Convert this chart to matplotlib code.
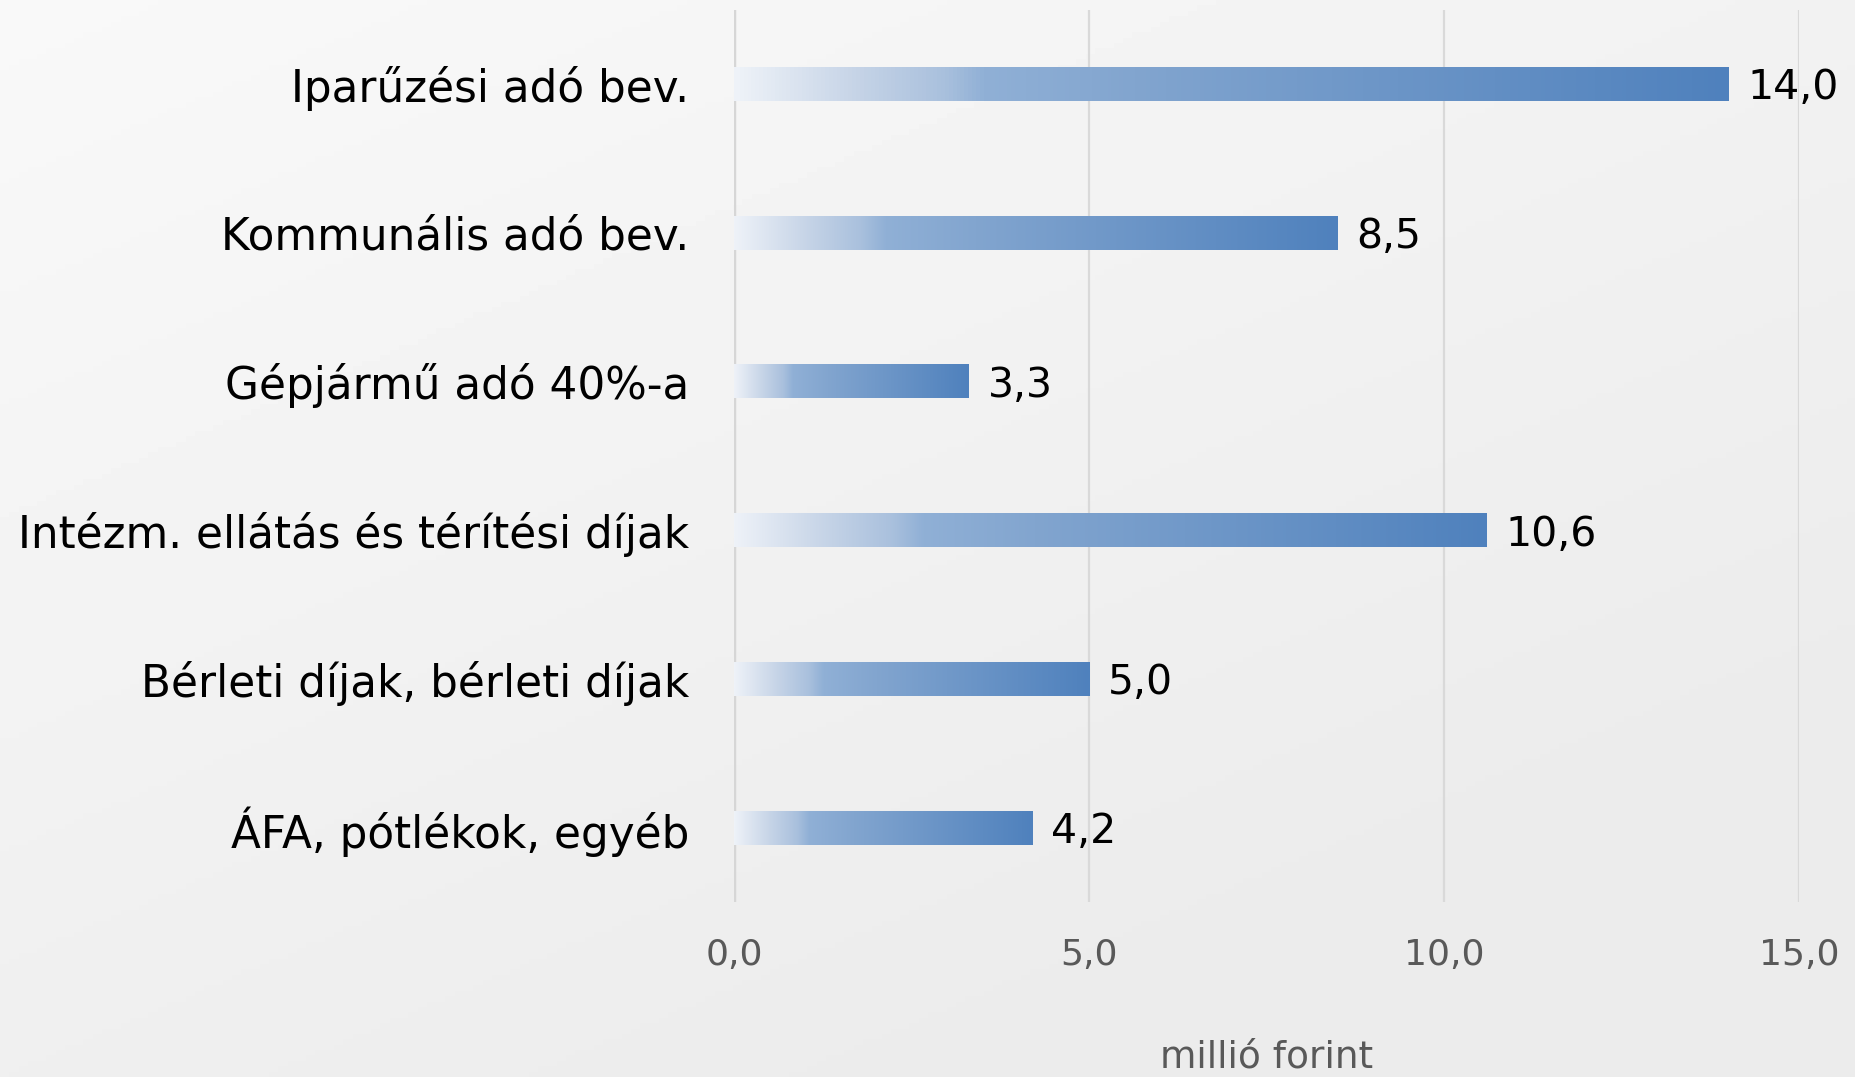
#!/usr/bin/env python3
"""Horizontal bar chart of local revenue items (million HUF)."""

import numpy as np
import matplotlib
matplotlib.use("Agg")
import matplotlib.pyplot as plt
from matplotlib.colors import LinearSegmentedColormap, to_rgb

categories = [
    "Iparűzési adó bev.",
    "Kommunális adó bev.",
    "Gépjármű adó 40%-a",
    "Intézm. ellátás és térítési díjak",
    "Bérleti díjak, bérleti díjak",
    "ÁFA, pótlékok, egyéb",
]
values = [14.0, 8.5, 3.3, 10.6, 5.0, 4.2]
x_ticks = [0.0, 5.0, 10.0, 15.0]
x_label = "millió forint"

WIDTH_PX, HEIGHT_PX, DPI = 1856, 1077, 100
plt.rcParams["font.family"] = ["DejaVu Sans"]

bar_cmap = LinearSegmentedColormap.from_list(
    "bar",
    [
        (0.00, to_rgb("#eef2f8")),
        (0.12, to_rgb("#c6d4e7")),
        (0.21, to_rgb("#a9c0dd")),
        (0.25, to_rgb("#90b0d6")),
        (0.40, to_rgb("#82a5cf")),
        (1.00, to_rgb("#4f81bd")),
    ],
)

fig = plt.figure(figsize=(WIDTH_PX / DPI, HEIGHT_PX / DPI), dpi=DPI)

# soft grey background, lighter at the top left
bg = fig.add_axes([0, 0, 1, 1], zorder=-10)
yy, xx = np.mgrid[0:1:200j, 0:1:200j]
shade = 0.975 - 0.05 * np.clip(0.55 * xx + 0.75 * yy, 0, 1)
bg.imshow(shade, cmap="gray", vmin=0, vmax=1, aspect="auto", extent=(0, 1, 0, 1))
bg.set_axis_off()

ax = fig.add_axes([734 / WIDTH_PX, 1 - 902 / HEIGHT_PX, 1065 / WIDTH_PX, 892.5 / HEIGHT_PX])
ax.patch.set_alpha(0)

y_pos = np.arange(len(categories))
bars = ax.barh(y_pos, values, height=0.23, color="#4f81bd", zorder=2)

ramp = np.linspace(0, 1, 256).reshape(1, -1)
for bar, val in zip(bars, values):
    y0 = bar.get_y()
    img = ax.imshow(
        ramp, cmap=bar_cmap, aspect="auto", interpolation="bilinear",
        extent=(0, val, y0 + bar.get_height(), y0), zorder=3,
    )
    img.set_clip_path(bar)
    ax.text(val + 0.27, bar.get_y() + bar.get_height() / 2 + 0.03,
            f"{val:.1f}".replace(".", ","), va="center", ha="left",
            fontsize=29.5, color="black", zorder=4)

ax.set_xlim(0, 15)
ax.set_ylim(len(categories) - 0.5, -0.5)
ax.set_xticks(x_ticks)
ax.set_xticklabels([f"{t:.1f}".replace(".", ",") for t in x_ticks])
ax.set_yticks(y_pos)
ax.set_yticklabels(categories)

for t in x_ticks[1:]:
    ax.axvline(t, color="#d9d9d9", linewidth=1.6, zorder=1)
ax.axvline(0, color="#d6d6d6", linewidth=3.2, zorder=1)

for spine in ax.spines.values():
    spine.set_visible(False)
ax.tick_params(axis="y", length=0, pad=32, labelsize=31.5, labelcolor="black")
ax.tick_params(axis="x", length=0, pad=26, labelsize=26, labelcolor="#595959")

fig.text((734 + 1799) / 2 / WIDTH_PX, 2 / HEIGHT_PX, x_label, ha="center", va="bottom",
         fontsize=27, color="#595959")

fig.savefig("out.png", dpi=DPI)
